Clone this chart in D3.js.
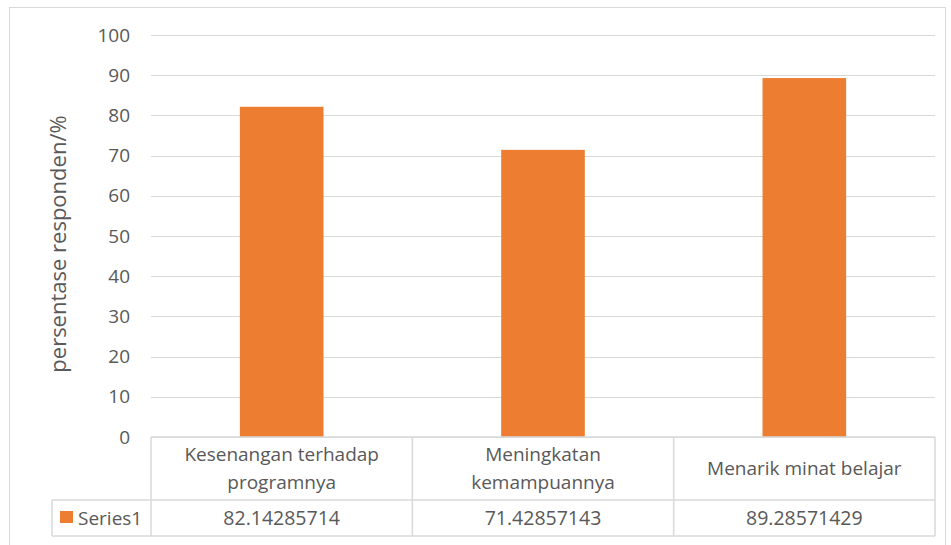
<!DOCTYPE html>
<html>
<head>
<meta charset="utf-8">
<script src="https://cdn.jsdelivr.net/npm/d3@7"></script>
<style>
  body { margin: 0; background: #fff; }
  text { font-family: "Open Sans", "Noto Sans", sans-serif; fill: #595959; }
</style>
</head>
<body>
<div id="chart"></div>
<script>
const categories = [
  ["Kesenangan terhadap", "programnya"],
  ["Meningkatan", "kemampuannya"],
  ["Menarik minat belajar"]
];
const values = [82.14285714, 71.42857143, 89.28571429];
const valueLabels = ["82.14285714", "71.42857143", "89.28571429"];
const seriesName = "Series1";
const yTicks = [0, 10, 20, 30, 40, 50, 60, 70, 80, 90, 100];

const width = 951, height = 545;
const margin = { left: 151, right: 16, top: 35, bottom: 108 };
const plotW = width - margin.left - margin.right;   // 151 .. 935
const y0 = 437;

const svg = d3.select("#chart").append("svg")
  .attr("width", width)
  .attr("height", height);

// outer chart border
svg.append("rect")
  .attr("x", 9.5).attr("y", 7.5)
  .attr("width", 936).attr("height", 550)
  .attr("fill", "none")
  .attr("stroke", "#d9d9d9");

const x = d3.scaleBand()
  .domain(d3.range(categories.length))
  .range([margin.left, margin.left + plotW])
  .paddingInner(0.68)
  .paddingOuter(0.34);

const xCell = d3.scaleBand()
  .domain(d3.range(categories.length))
  .range([margin.left, margin.left + plotW]);

const y = d3.scaleLinear()
  .domain([0, 100])
  .range([y0, margin.top]);

// gridlines
svg.append("g")
  .selectAll("line")
  .data(yTicks)
  .enter().append("line")
  .attr("x1", margin.left)
  .attr("x2", margin.left + plotW)
  .attr("y1", d => Math.round(y(d)) + 0.5)
  .attr("y2", d => Math.round(y(d)) + 0.5)
  .attr("stroke", "#d9d9d9")
  .attr("stroke-width", 1);

// tick labels
svg.append("g")
  .selectAll("text")
  .data(yTicks)
  .enter().append("text")
  .attr("x", 130)
  .attr("y", d => y(d))
  .attr("dy", "0.35em")
  .attr("text-anchor", "end")
  .attr("font-size", 19)
  .text(d => d);

// axis title
svg.append("text")
  .attr("transform", `translate(66,${(y0 + margin.top) / 2 + 8}) rotate(-90)`)
  .attr("text-anchor", "middle")
  .attr("font-size", 22)
  .text("persentase responden/%");

// bars
svg.append("g")
  .selectAll("rect")
  .data(values)
  .enter().append("rect")
  .attr("x", (d, i) => x(i))
  .attr("width", x.bandwidth())
  .attr("y", d => y(d))
  .attr("height", d => y0 - y(d))
  .attr("fill", "#ed7d31");

// data table
const rowTop = y0, rowMid = 500, rowBot = 536, legendLeft = 52;
const table = svg.append("g")
  .attr("stroke", "#d9d9d9")
  .attr("stroke-width", 1.5)
  .attr("fill", "none");

table.append("line").attr("x1", margin.left).attr("x2", margin.left + plotW)
  .attr("y1", rowTop).attr("y2", rowTop);
table.append("line").attr("x1", legendLeft).attr("x2", margin.left + plotW)
  .attr("y1", rowMid).attr("y2", rowMid);
table.append("line").attr("x1", legendLeft).attr("x2", margin.left + plotW)
  .attr("y1", rowBot).attr("y2", rowBot);
table.append("line").attr("x1", legendLeft).attr("x2", legendLeft)
  .attr("y1", rowMid).attr("y2", rowBot);
table.selectAll("line.v")
  .data(d3.range(categories.length + 1))
  .enter().append("line")
  .attr("class", "v")
  .attr("x1", i => margin.left + i * xCell.bandwidth())
  .attr("x2", i => margin.left + i * xCell.bandwidth())
  .attr("y1", rowTop).attr("y2", rowBot);

// category labels
const catG = svg.append("g");
categories.forEach((lines, i) => {
  const cx = xCell(i) + xCell.bandwidth() / 2;
  const midY = (rowTop + rowMid) / 2;
  const lh = 28;
  lines.forEach((ln, j) => {
    catG.append("text")
      .attr("x", cx)
      .attr("y", midY + (j - (lines.length - 1) / 2) * lh)
      .attr("dy", "0.35em")
      .attr("text-anchor", "middle")
      .attr("font-size", 19)
      .text(ln);
  });
});

// values row
svg.append("g")
  .selectAll("text")
  .data(valueLabels)
  .enter().append("text")
  .attr("x", (d, i) => xCell(i) + xCell.bandwidth() / 2)
  .attr("y", (rowMid + rowBot) / 2)
  .attr("dy", "0.35em")
  .attr("text-anchor", "middle")
  .attr("font-size", 19.5)
  .text(d => d);

// legend key
svg.append("rect")
  .attr("x", 60).attr("y", 511)
  .attr("width", 13).attr("height", 12)
  .attr("fill", "#ed7d31");
svg.append("text")
  .attr("x", 78)
  .attr("y", (rowMid + rowBot) / 2)
  .attr("dy", "0.35em")
  .attr("font-size", 19)
  .text(seriesName);
</script>
</body>
</html>
